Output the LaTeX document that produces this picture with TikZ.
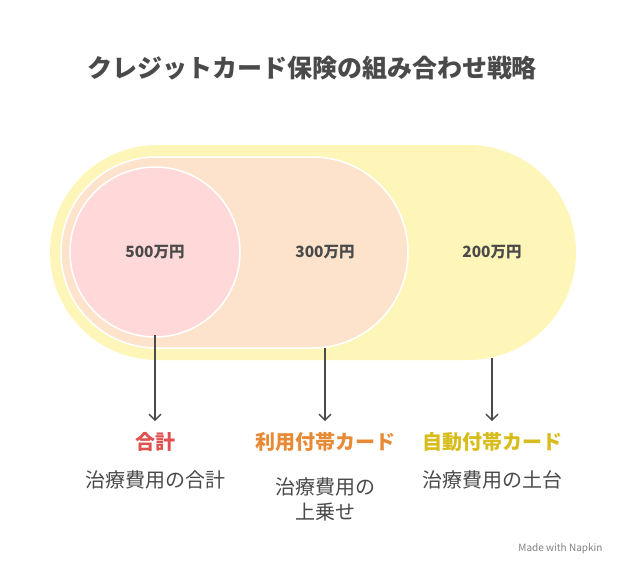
\documentclass[tikz,border=0pt]{standalone}
\usepackage{fontspec}
\setmainfont{Noto Sans CJK JP}
\usetikzlibrary{positioning,arrows.meta}
\definecolor{yel}{HTML}{FEF6B9}
\definecolor{pch}{HTML}{FDE3CB}
\definecolor{pnk}{HTML}{FFD9DA}
\definecolor{txt}{HTML}{4A4A4A}
\definecolor{redl}{HTML}{E0504F}
\definecolor{orl}{HTML}{E88A35}
\definecolor{yell}{HTML}{D8BC1C}
\tikzset{
  amount/.style={font=\bfseries\fontsize{15.5}{18}\selectfont, text=txt},
  head/.style={font=\bfseries\fontsize{20}{24}\selectfont},
  desc/.style={font=\fontsize{20}{25}\selectfont, text=txt, align=center},
  pointer/.style={draw=txt, line width=1.3pt, -{Straight Barb[length=6pt]}}
}
\begin{document}
\begin{tikzpicture}[x=1pt,y=-1pt]
	\useasboundingbox (0,0) rectangle (624,576);
	\node[font=\bfseries\fontsize{25}{30}\selectfont, text=txt] (title) at (312,68) {クレジットカード保険の組み合わせ戦略};
	% nested stadiums
	\fill[yel, rounded corners=107.5pt] (50,145) rectangle (576,360);
	\filldraw[fill=pch, draw=white, line width=1.5pt, rounded corners=95.5pt] (61,157) rectangle (408,348);
	\filldraw[fill=pnk, draw=white, line width=1.5pt] (155,252) circle (85);
	\node[amount] (a1) at (155,252) {500万円};
	\node[amount] (a2) at (325,252) {300万円};
	\node[amount] (a3) at (492,252) {200万円};
	\coordinate (s1) at (155,335);
	\coordinate (s2) at (325,348);
	\coordinate (s3) at (492,358);
	% labels
	\node[head, text=redl] (h1) at (155,442) {合計};
	\node[head, text=orl] (h2) at (325,442) {利用付帯カード};
	\node[head, text=yell] (h3) at (492,442) {自動付帯カード};
	\node[desc] (d1) at (155,480) {治療費用の合計};
	\node[desc] (d2) at (325,499) {治療費用の\\上乗せ};
	\node[desc] (d3) at (492,480) {治療費用の土台};
	\draw[pointer] (s1) -- (s1 |- 0,421);
	\draw[pointer] (s2) -- (s2 |- 0,421);
	\draw[pointer] (s3) -- (s3 |- 0,421);
	\node[font=\fontsize{10}{12}\selectfont, text=gray, anchor=east] (brand) at (606,549) {Made with Napkin};
\end{tikzpicture}
\end{document}
